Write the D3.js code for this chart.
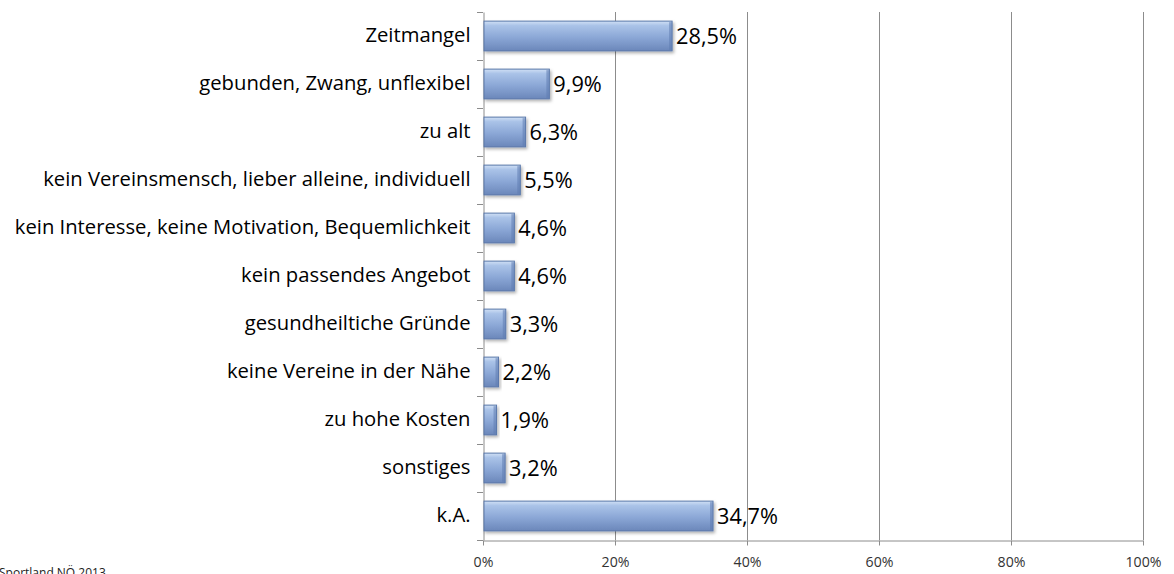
<!DOCTYPE html>
<html><head><meta charset="utf-8">
<script src="https://cdn.jsdelivr.net/npm/d3@7/dist/d3.min.js"></script>
<style>
html,body{margin:0;padding:0;background:#fff;overflow:hidden}
svg{display:block}
</style></head>
<body>
<svg id="chart" width="1174" height="574"></svg>
<script>
const categories = ["Zeitmangel","gebunden, Zwang, unflexibel","zu alt","kein Vereinsmensch, lieber alleine, individuell","kein Interesse, keine Motivation, Bequemlichkeit","kein passendes Angebot","gesundheiltiche Gründe","keine Vereine in der Nähe","zu hohe Kosten","sonstiges","k.A."];
const values = [28.5,9.9,6.3,5.5,4.6,4.6,3.3,2.2,1.9,3.2,34.7];
const valueLabels = ["28,5%","9,9%","6,3%","5,5%","4,6%","4,6%","3,3%","2,2%","1,9%","3,2%","34,7%"];
const xTicks = [0,20,40,60,80,100];
const source = "Sportland NÖ 2013";

const svg = d3.select("#chart");
const font = "'Open Sans', sans-serif";
const x = d3.scaleLinear().domain([0,100]).range([483,1143]);
const y = d3.scaleBand().domain(categories).range([12,540]).paddingInner(0.38).paddingOuter(0.19);

function fitSize(str, targetW, base){
  const t = svg.append("text").attr("font-family",font).attr("font-size",base).text(str);
  const w = t.node().getComputedTextLength(); t.remove();
  return base*targetW/w;
}
const catSize = fitSize("kein Interesse, keine Motivation, Bequemlichkeit",456,16);
const valSize = fitSize("28,5%",61,18);
const tickSize = fitSize("100%",36,12);

const defs = svg.append("defs");
const g = defs.append("linearGradient").attr("id","barg").attr("x1",0).attr("y1",0).attr("x2",0).attr("y2",1);
g.append("stop").attr("offset","0%").attr("stop-color","#d0e0f5");
g.append("stop").attr("offset","15%").attr("stop-color","#aac3e8");
g.append("stop").attr("offset","55%").attr("stop-color","#8ba7d6");
g.append("stop").attr("offset","100%").attr("stop-color","#6b87ba");
const f = defs.append("filter").attr("id","sh").attr("x","-10%").attr("y","-20%").attr("width","130%").attr("height","160%");
f.append("feDropShadow").attr("dx",1.5).attr("dy",2).attr("stdDeviation",1.5).attr("flood-color","#000").attr("flood-opacity",0.3);

svg.append("g").selectAll("line").data(xTicks.slice(1)).join("line")
  .attr("x1",d=>x(d)+0.5).attr("x2",d=>x(d)+0.5).attr("y1",12).attr("y2",540)
  .attr("stroke","#8c8c8c").attr("stroke-width",1);

const xAxis = d3.axisBottom(x).tickValues(xTicks).tickFormat(d=>d+"%").tickSize(5).tickSizeOuter(0);
const gx = svg.append("g").attr("transform","translate(0,540.5)").call(xAxis);
gx.select(".domain").attr("stroke","#8c8c8c");
gx.selectAll(".tick line").attr("stroke","#8c8c8c");
gx.selectAll(".tick text").attr("font-family",font).attr("font-size",tickSize).attr("fill","#333").attr("y",16).attr("dy","0.71em");

const yAxis = d3.axisLeft(y).tickSize(0).tickSizeOuter(0).tickPadding(13);
const gy = svg.append("g").attr("transform","translate(483.5,0)").call(yAxis);
gy.select(".domain").attr("stroke","#8c8c8c");
gy.selectAll(".tick text").attr("font-family",font).attr("font-size",catSize).attr("fill","#000");
const bounds = categories.map(c=>y(c)-y.step()*y.paddingInner()/2).concat([540]);
svg.append("g").selectAll("line").data(bounds).join("line")
  .attr("x1",477).attr("x2",483).attr("y1",d=>Math.round(d)+0.5).attr("y2",d=>Math.round(d)+0.5)
  .attr("stroke","#8c8c8c");

const bars = svg.append("g").selectAll("g").data(values).join("g");
bars.append("rect")
  .attr("x",x(0)+1).attr("y",(d,i)=>y(categories[i]))
  .attr("width",d=>x(d)-x(0)).attr("height",y.bandwidth())
  .attr("fill","url(#barg)").attr("stroke","#5a78aa").attr("stroke-width",1)
  .attr("filter","url(#sh)");
// bevel: darker right edge strip
bars.append("rect")
  .attr("x",d=>x(d)-2).attr("y",(d,i)=>y(categories[i])+1)
  .attr("width",d=>Math.min(3,x(d)-x(0))).attr("height",y.bandwidth()-2)
  .attr("fill","#5f7bb0").attr("opacity",0.55);

svg.append("g").selectAll("text").data(values).join("text")
  .attr("x",d=>x(d)+5).attr("y",(d,i)=>y(categories[i])+y.bandwidth()/2)
  .attr("dy","0.36em").attr("font-family",font).attr("font-size",valSize).attr("fill","#000")
  .text((d,i)=>valueLabels[i]);

svg.append("text").attr("x",-1).attr("y",577).attr("font-family",font).attr("font-size",12).attr("fill","#222").text(source);
</script>
</body></html>
